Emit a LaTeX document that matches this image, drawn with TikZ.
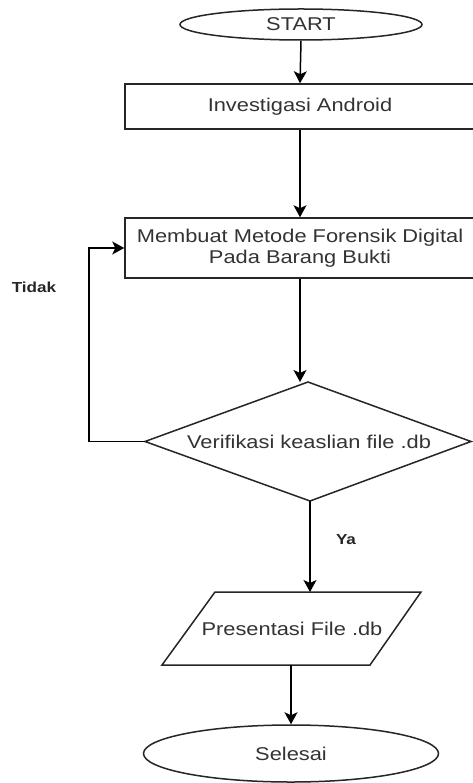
\documentclass[tikz,border=0pt]{standalone}
\usepackage{fontspec}
\setmainfont{Liberation Sans}[FakeStretch=1.18]
\usetikzlibrary{shapes.geometric,arrows.meta}
\definecolor{txt}{HTML}{333333}
\tikzset{
  shapeline/.style={draw=black!85, line width=1.5pt},
  lbl/.style={text=txt, font=\fontsize{18.5}{21}\selectfont, inner sep=0pt},
  startend/.style={shapeline, ellipse, lbl},
  procbox/.style={shapeline, rectangle, lbl, minimum width=350pt},
  conn/.style={draw=black, line width=1.5pt, -{Stealth[length=12pt,width=13pt,inset=3pt]}},
  answer/.style={text=black!85, font=\bfseries\fontsize{14.5}{16}\selectfont, inner sep=0pt}
}
\begin{document}
\begin{tikzpicture}[x=1pt,y=-1pt]
\useasboundingbox (0,0) rectangle (472,783);
\fill[white] (0,0) rectangle (472,783);
\node[startend, minimum width=242pt, minimum height=31pt] (start) at (301,24.5) {START};
\node[procbox, minimum height=45pt] (inv) at (300,106.5) {Investigasi Android};
\node[procbox, minimum height=60pt, align=center] (met) at (300,248) {Membuat Metode Forensik Digital\\Pada Barang Bukti};
% decision diamond
\coordinate (dT) at (308,382);
\coordinate (dL) at (145,441.5);
\coordinate (dR) at (471,441.5);
\coordinate (dB) at (310,501);
\draw[shapeline] (dT) -- (dR) -- (dB) -- (dL) -- cycle;
\node[lbl] (dia) at (309,442) {Verifikasi keaslian file .db};
% parallelogram
\coordinate (pTL) at (215,592);
\coordinate (pTR) at (421,592);
\coordinate (pBR) at (370,665);
\coordinate (pBL) at (162,665);
\draw[shapeline] (pTL) -- (pTR) -- (pBR) -- (pBL) -- cycle;
\node[lbl] (pres) at (292,629) {Presentasi File .db};
\coordinate (presTop) at (308,592);
\coordinate (presBot) at (291,665);
\node[startend, minimum width=295pt, minimum height=57pt] (sel) at (291,753.5) {Selesai};
% connectors
\draw[conn] (start.south) -- (inv.north);
\draw[conn] (inv.south) -- (met.north);
\draw[conn] (met.south) -- (met.south |- dT);
\draw[conn] (dL) -- ++(-56,0) |- (met.west);
\draw[conn] (dB) -- (dB |- presTop);
\draw[conn] (presBot) -- (sel.north);
\node[answer] (tidak) at (34,287) {Tidak};
\node[answer] (ya) at (346,540) {Ya};
\end{tikzpicture}
\end{document}
